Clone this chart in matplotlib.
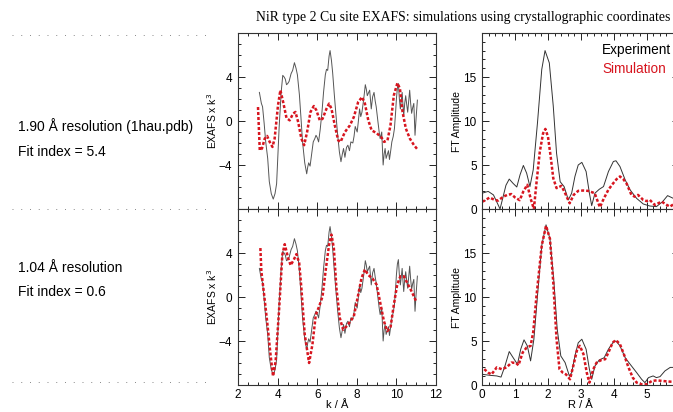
import matplotlib
matplotlib.use("Agg")
import matplotlib.pyplot as plt
from matplotlib.ticker import MultipleLocator

# --- data ---

# experimental EXAFS (same in both rows)
k_exp = [3.08, 3.18, 3.24, 3.32, 3.4, 3.5, 3.58, 3.68, 3.78, 3.87, 3.95, 4.08, 4.18, 4.26,
         4.33, 4.39, 4.45, 4.51, 4.58, 4.68, 4.76, 4.85, 4.93, 5.0, 5.1, 5.18, 5.26, 5.37,
         5.47, 5.52, 5.57, 5.64, 5.72, 5.8, 5.88, 5.94, 6.0, 6.07, 6.15, 6.24, 6.32, 6.41,
         6.47, 6.53, 6.6, 6.65, 6.72, 6.78, 6.86, 6.95, 7.03, 7.12, 7.2, 7.27, 7.33, 7.4,
         7.48, 7.55, 7.63, 7.7, 7.8, 7.86, 7.92, 8.02, 8.08, 8.14, 8.2, 8.26, 8.35, 8.43,
         8.48, 8.53, 8.6, 8.65, 8.73, 8.8, 8.87, 8.93, 8.98, 9.07, 9.13, 9.18, 9.26, 9.33,
         9.38, 9.43, 9.48, 9.53, 9.6, 9.65, 9.72, 9.77, 9.84, 9.9, 9.96, 10.0, 10.05, 10.1,
         10.15, 10.2, 10.25, 10.29, 10.33, 10.37, 10.42, 10.47, 10.52, 10.57, 10.62, 10.67,
         10.72, 10.77, 10.82, 10.88, 10.94, 11.0, 11.06]
chi_exp = [2.6, 1.6, 1.3, -0.2, -1.9, -3.4, -5.5, -6.6, -7.1, -6.6, -5.7, -0.5, 2.6, 4.15,
           4.0, 3.8, 3.3, 3.4, 3.6, 4.3, 4.6, 5.3, 4.8, 4.2, 2.4, 0.3, -1.9, -3.8,
           -4.8, -4.2, -3.8, -4.1, -3.0, -1.9, -1.6, -1.3, -1.5, -1.9, -0.8, 0.8, 2.6, 4.2,
           4.7, 4.6, 5.9, 6.4, 5.5, 4.4, 2.5, 0.5, -1.2, -2.8, -3.7, -3.0, -2.5, -3.3,
           -2.4, -2.2, -2.7, -1.9, -2.0, -1.4, -0.5, -1.0, 0.0, 1.1, 0.4, 0.8, 2.0, 3.3,
           2.9, 2.3, 2.6, 2.8, 1.1, 2.2, 2.6, 1.8, 1.3, -0.1, -1.0, -1.6, -1.0, -4.0,
           -3.0, -2.5, -3.4, -3.1, -2.7, -3.5, -2.6, -1.9, -1.4, -0.7, 0.8, 2.0, 3.0, 3.4,
           2.0, 1.1, 1.9, 2.6, 1.5, 0.5, 1.6, 2.3, 1.5, 0.8, 1.8, 2.8,
           1.6, 0.7, 1.2, 1.6, -1.3, 0.4, 1.9]

# simulation, 1.90 A structure
k_sim1 = [3.01, 3.1, 3.21, 3.35, 3.47, 3.6, 3.74, 3.85, 4.02, 4.14, 4.28, 4.45, 4.61, 4.78,
          4.9, 5.04, 5.2, 5.34, 5.49, 5.66, 5.83, 5.96, 6.13, 6.27, 6.47, 6.6, 6.72, 6.89,
          7.06, 7.18, 7.4, 7.65, 7.85, 8.07, 8.27, 8.41, 8.58, 8.75, 9.0, 9.25, 9.38, 9.55,
          9.7, 9.87, 10.05, 10.18, 10.31, 10.48, 10.68, 10.89, 11.06]
chi_sim1 = [1.27, -2.67, -2.5, -1.6, -1.36, -1.9, -2.36, -1.6, 1.42, 2.8, 1.73, 0.27, 0.06, 0.67,
            0.82, -0.1, -1.6, -2.2, -1.0, 0.82, 1.36, 0.97, 0.06, 0.2, 1.12, 1.58, 1.12, -0.4,
            -1.76, -1.9, -1.0, -0.4, 0.36, 1.73, 2.18, 1.58, 0.06, -0.85, -1.1, -1.5, -1.9, -1.76,
            -0.4, 2.33, 3.45, 2.94, 0.82, -0.7, -1.6, -2.2, -2.57]

# simulation, 1.04 A structure
k_sim2 = [3.13, 3.18, 3.32, 3.47, 3.64, 3.77, 3.9, 4.07, 4.24, 4.36, 4.53, 4.66, 4.82, 4.95,
          5.09, 5.2, 5.37, 5.59, 5.76, 5.93, 6.1, 6.27, 6.44, 6.6, 6.72, 6.84, 6.97, 7.14,
          7.31, 7.48, 7.68, 7.85, 8.07, 8.24, 8.41, 8.58, 8.8, 9.0, 9.17, 9.37, 9.54, 9.7,
          9.87, 10.04, 10.2, 10.38, 10.55, 10.77, 11.0]
chi_sim2 = [4.45, 2.33, 0.2, -2.2, -5.2, -7.2, -5.85, -1.3, 3.85, 4.8, 3.55, 2.88, 3.4, 3.9,
            3.1, 0.82, -3.4, -6.0, -4.3, -1.6, -0.85, 0.06, 2.6, 4.76, 5.67, 4.45, 0.82, -1.9,
            -2.97, -2.67, -2.2, -1.76, 0.2, 1.73, 2.5, 2.0, 1.67, 1.12, -0.4, -2.2, -3.1, -2.8,
            -0.7, 1.12, 1.88, 1.88, 1.27, 0.5, -0.4]

# Fourier transforms
r_ft1 = [0.0, 0.18, 0.34, 0.46, 0.54, 0.62, 0.72, 0.82, 0.94, 1.05, 1.15, 1.25, 1.35, 1.45,
         1.55, 1.68, 1.81, 1.91, 2.04, 2.16, 2.26, 2.37, 2.49, 2.62, 2.72, 2.82, 2.92, 3.03,
         3.16, 3.26, 3.33, 3.43, 3.56, 3.69, 3.84, 3.99, 4.07, 4.19, 4.35, 4.5, 4.7, 4.9,
         5.1, 5.3, 5.49, 5.64, 5.82, 6.0]
ft_exp1 = [1.8, 2.0, 1.6, 0.65, 0.0, 1.2, 2.7, 3.4, 2.9, 2.5, 3.9, 4.95, 4.07, 2.55,
           4.45, 9.8, 15.86, 18.0, 16.6, 11.7, 6.35, 3.1, 2.55, 1.03, 1.8, 3.7, 5.0, 5.3,
           4.26, 1.8, 0.38, 1.8, 2.24, 2.55, 4.26, 5.4, 5.48, 4.83, 3.3, 2.17, 1.2, 0.57,
           0.34, 0.27, 0.84, 1.52, 1.2, 0.9]

r_sim1 = [0.0, 0.07, 0.22, 0.38, 0.48, 0.64, 0.76, 0.88, 1.0, 1.14, 1.25, 1.37, 1.47, 1.57,
          1.65, 1.75, 1.85, 1.92, 2.0, 2.08, 2.16, 2.26, 2.41, 2.52, 2.66, 2.78, 2.92, 3.07,
          3.22, 3.42, 3.5, 3.58, 3.7, 3.84, 3.98, 4.09, 4.19, 4.29, 4.39, 4.54, 4.64, 4.74,
          4.9, 5.0, 5.1, 5.25, 5.46, 5.6, 5.71, 5.85, 6.0]
ft_sim1 = [0.84, 0.95, 1.3, 1.03, 0.95, 1.4, 1.6, 1.7, 1.3, 1.0, 2.0, 2.75, 1.2, 0.0,
           3.0, 6.5, 8.6, 9.1, 8.2, 6.0, 3.5, 2.37, 2.63, 1.8, 0.65, 1.6, 2.06, 2.1,
           2.06, 1.8, 1.0, 0.2, 1.2, 2.2, 2.9, 3.4, 3.7, 3.4, 2.9, 1.6, 1.4, 1.6,
           1.03, 0.9, 1.03, 0.46, 0.84, 0.5, 0.27, 0.6, 0.3]

r_ft2 = [0.03, 0.23, 0.44, 0.57, 0.69, 0.82, 0.94, 1.07, 1.17, 1.27, 1.37, 1.47, 1.57, 1.68,
         1.81, 1.94, 2.06, 2.18, 2.28, 2.39, 2.52, 2.65, 2.72, 2.82, 2.92, 3.03, 3.16, 3.26,
         3.33, 3.43, 3.56, 3.71, 3.84, 3.99, 4.07, 4.19, 4.35, 4.5, 4.7, 4.85, 4.95, 5.06,
         5.2, 5.3, 5.41, 5.56, 5.72, 5.82, 6.0]
ft_exp2 = [1.2, 1.1, 1.03, 0.9, 2.17, 3.8, 3.1, 2.36, 4.07, 5.13, 4.45, 2.74, 5.2, 10.15,
           15.86, 18.2, 16.6, 11.7, 6.35, 3.3, 2.55, 1.03, 1.4, 3.3, 4.8, 5.2, 4.07, 1.8,
           0.65, 2.17, 2.85, 3.1, 4.07, 4.9, 5.0, 4.45, 3.1, 2.36, 1.4, 0.65, 0.27, 0.84,
           1.03, 0.84, 0.95, 1.6, 2.0, 2.0, 2.0]

r_sim2 = [0.06, 0.18, 0.28, 0.44, 0.59, 0.74, 0.89, 1.03, 1.1, 1.23, 1.35, 1.47, 1.55, 1.65,
          1.81, 1.94, 2.06, 2.16, 2.26, 2.35, 2.45, 2.55, 2.67, 2.77, 2.89, 2.97, 3.08, 3.18,
          3.26, 3.38, 3.48, 3.63, 3.74, 3.84, 3.97, 4.07, 4.19, 4.31, 4.45, 4.58, 4.7, 4.85,
          5.0, 5.16, 5.31, 5.51, 5.72, 6.0]
ft_sim2 = [1.8, 1.4, 1.2, 2.0, 1.8, 2.0, 2.55, 2.5, 2.24, 3.7, 4.26, 4.45, 6.0, 10.15,
           15.86, 18.1, 16.6, 11.7, 5.2, 1.8, 1.4, 1.2, 0.65, 2.17, 4.07, 4.45, 3.5, 1.4,
           0.27, 1.8, 2.55, 2.85, 2.93, 3.7, 4.83, 5.1, 4.64, 3.5, 2.0, 0.84, 0.27, 0.08,
           0.08, 0.45, 0.53, 0.45, 0.38, 0.35]

r_ticks = [0, 1, 2, 3, 4, 5, 6]
r_tick_labels = ["0", "1", "2", "3", "4", "5", ""]  # "6" falls outside the picture

title = "NiR type 2 Cu site EXAFS: simulations using crystallographic coordinates"
row_labels = [("1.90 Å resolution (1hau.pdb)", "Fit index = 5.4"),
              ("1.04 Å resolution", "Fit index = 0.6")]

red = "#d7151f"
sans = ["Liberation Sans", "DejaVu Sans"]
plt.rcParams["font.family"] = sans

W, H = 673, 412
fig = plt.figure(figsize=(W / 100, H / 100), dpi=100)


def box(x0, y0, x1, y1):
    # pixel box -> figure fraction
    return [x0 / W, 1 - y1 / H, (x1 - x0) / W, (y1 - y0) / H]


def style(ax, xmaj, xmin, ymaj, ymin):
    ax.xaxis.set_major_locator(MultipleLocator(xmaj))
    ax.xaxis.set_minor_locator(MultipleLocator(xmin))
    ax.yaxis.set_major_locator(MultipleLocator(ymaj))
    ax.yaxis.set_minor_locator(MultipleLocator(ymin))
    ax.tick_params(which="both", direction="in", top=True, right=True, labelsize=8.5,
                   width=0.6, pad=4)
    ax.tick_params(axis="x", pad=3)
    ax.tick_params(which="major", length=5)
    ax.tick_params(which="minor", length=2.5)
    for s in ax.spines.values():
        s.set_linewidth(0.8)
        s.set_color("#333333")


ax_e1 = fig.add_axes(box(238, 33, 436, 209))
ax_e2 = fig.add_axes(box(238, 209, 436, 385))
ax_f1 = fig.add_axes(box(482.3, 33, 679.4, 209))
ax_f2 = fig.add_axes(box(482.3, 209, 679.4, 385))

for ax, ks, cs in [(ax_e1, k_sim1, chi_sim1), (ax_e2, k_sim2, chi_sim2)]:
    ax.plot(k_exp, chi_exp, color="#555555", lw=0.7)
    ax.plot(ks, cs, color=red, lw=1.8, ls=(0, (1.2, 0.8)))
    ax.set_xlim(2, 12)
    ax.set_ylim(-8, 8)
    style(ax, 2, 0.5, 4, 1)
    ax.set_ylabel("EXAFS x k$^3$", fontsize=7.5, labelpad=0)
    ax.set_yticks([-4, 0, 4])

for ax, re, fe, rs, fs in [(ax_f1, r_ft1, ft_exp1, r_sim1, ft_sim1),
                           (ax_f2, r_ft2, ft_exp2, r_sim2, ft_sim2)]:
    ax.plot(re, fe, color="#333333", lw=0.7)
    ax.plot(rs, fs, color=red, lw=1.8, ls=(0, (1.2, 0.8)))
    ax.set_xlim(0, 6)
    ax.set_ylim(0, 20)
    style(ax, 1, 0.2, 5, 1)
    ax.set_ylabel("FT Amplitude", fontsize=7.5, labelpad=1)
    ax.set_yticks([0, 5, 10, 15])
    ax.set_xticks(r_ticks, labels=r_tick_labels)

ax_e1.tick_params(labelbottom=False)
ax_f1.tick_params(labelbottom=False)
ax_e2.set_xlabel("k / Å", fontsize=8)
ax_f2.set_xlabel("R / Å", fontsize=8)
ax_e2.xaxis.set_label_coords(0.5, -0.085)
ax_f2.xaxis.set_label_coords(0.5, -0.085)

fig.text(463 / W, 1 - 17 / H, title, family=["Liberation Serif", "DejaVu Serif"],
         fontsize=9.9, ha="center", va="center")

fig.text(602 / W, 1 - 50 / H, "Experiment", fontsize=9.8, color="black", va="center")
fig.text(602 / W, 1 - 69 / H, "Simulation", fontsize=9.8, color=red, va="center")

for (l1, l2), y1, y2 in zip(row_labels, [126, 268], [152, 292]):
    fig.text(18 / W, 1 - y1 / H, l1, fontsize=10, va="center")
    fig.text(18 / W, 1 - y2 / H, l2, fontsize=10, va="center")

for yp in [35, 209, 382]:
    fig.add_artist(plt.Line2D([12 / W, 213 / W], [1 - yp / H, 1 - yp / H], color="#888888",
                              lw=0.7, ls=(0, (1, 8)), transform=fig.transFigure))

fig.savefig("out.png", dpi=100)
